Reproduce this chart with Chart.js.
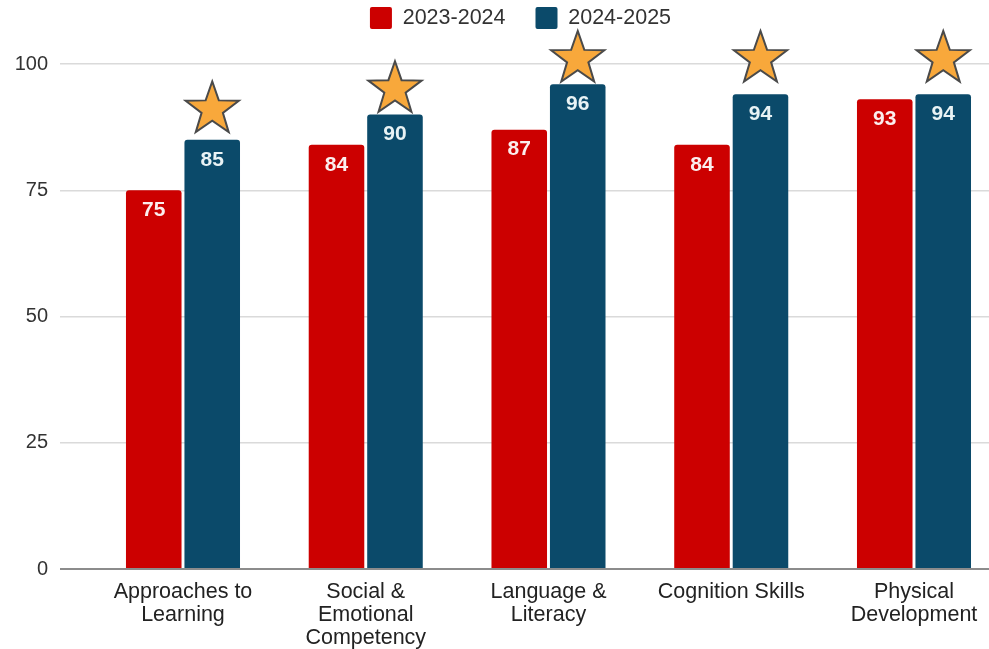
<!DOCTYPE html>
<html><head><meta charset="utf-8">
<script src="https://cdn.jsdelivr.net/npm/chart.js@4/dist/chart.umd.min.js"></script>
<style>
html,body{margin:0;padding:0;background:#fff;overflow:hidden;width:989px;height:649px}
#wrap{position:absolute;left:0;top:0;width:1041px;height:649px}
</style></head>
<body><div id="wrap"><canvas id="c"></canvas></div>
<script>
// ---- data ----
const categories = [['Approaches to','Learning'],['Social &','Emotional','Competency'],['Language &','Literacy'],['Cognition Skills'],['Physical','Development']];
const seriesNames = ['2023-2024','2024-2025'];
const values2324 = [75, 84, 87, 84, 93];
const values2425 = [85, 90, 96, 94, 94];
const starLevels = [91, 95, 101, 101, 101];   // star marks above the 2024-2025 bars (value units)
const yTickValues = [0, 25, 50, 75, 100];

// ---- styles ----
const RED = '#cc0000', BLUE = '#0b4a6a';
const FONT = "'Liberation Sans', Arial, sans-serif";
const LEGEND_H = 87;

const legendFit = {
  id: 'legendFit',
  beforeLayout(chart) {
    const lg = chart.legend;
    if (lg && !lg._fixedFit) {
      const f = lg.fit.bind(lg);
      lg.fit = function () { f(); this.height = LEGEND_H; };
      lg._fixedFit = true;
    }
  }
};

const valueLabels = {
  id: 'valueLabels',
  afterDatasetsDraw(chart) {
    const ctx = chart.ctx;
    ctx.save();
    ctx.font = "bold 21px " + FONT;
    ctx.textAlign = 'center';
    ctx.textBaseline = 'middle';
    chart.data.datasets.forEach((ds, di) => {
      const meta = chart.getDatasetMeta(di);
      meta.data.forEach((el, i) => {
        ctx.fillStyle = di === 0 ? '#fbeeee' : '#e9f3f5';
        ctx.fillText(String(ds.data[i].y), el.x, el.y + 20);
      });
    });
    ctx.restore();
  }
};

function drawStar(ctx, cx, cy, R) {
  const r = R * 0.40;
  ctx.beginPath();
  for (let k = 0; k < 10; k++) {
    const rad = k % 2 === 0 ? R : r;
    const a = -Math.PI / 2 + k * Math.PI / 5;
    const px = cx + rad * Math.cos(a), py = cy + rad * Math.sin(a);
    if (k === 0) ctx.moveTo(px, py); else ctx.lineTo(px, py);
  }
  ctx.closePath();
  ctx.fillStyle = '#f8a83b';
  ctx.fill();
  ctx.lineWidth = 2;
  ctx.lineJoin = 'miter';
  ctx.strokeStyle = '#4a4a4a';
  ctx.stroke();
}

const stars = {
  id: 'stars',
  afterDatasetsDraw(chart) {
    const meta = chart.getDatasetMeta(1);
    const ys = chart.scales.y;
    const ctx = chart.ctx;
    ctx.save();
    starLevels.forEach((lv, i) => {
      const el = meta.data[i];
      if (!el) return;
      drawStar(ctx, el.x, ys.getPixelForValue(lv), 28);
    });
    ctx.restore();
  }
};

const toPoints = arr => arr.map((v, i) => ({ x: i, y: v }));

new Chart(document.getElementById('c'), {
  type: 'bar',
  data: {
    datasets: [
      { label: seriesNames[0], data: toPoints(values2324), backgroundColor: RED, borderWidth: 0,
        borderRadius: { topLeft: 3, topRight: 3, bottomLeft: 0, bottomRight: 0 }, borderSkipped: 'start' },
      { label: seriesNames[1], data: toPoints(values2425), backgroundColor: BLUE, borderWidth: 0,
        borderRadius: { topLeft: 3, topRight: 3, bottomLeft: 0, bottomRight: 0 }, borderSkipped: 'start' }
    ]
  },
  options: {
    responsive: true,
    maintainAspectRatio: false,
    devicePixelRatio: 1,
    animation: false,
    barPercentage: 0.95,
    categoryPercentage: 0.64,
    layout: { padding: { top: -23, left: 0, right: 0, bottom: 0 } },
    plugins: {
      legend: {
        position: 'top',
        align: 'center',
        labels: {
          font: { family: FONT, size: 21.5 },
          color: '#333333',
          boxWidth: 22, boxHeight: 22,
          padding: 30,
          useBorderRadius: true, borderRadius: 2
        }
      },
      tooltip: { enabled: false }
    },
    scales: {
      x: {
        type: 'linear',
        offset: false,
        min: -0.673,
        max: 4.695,
        afterBuildTicks(scale) { scale.ticks = categories.map((c, i) => ({ value: i })); },
        afterFit(scale) { scale.height = 80; },
        grid: { display: false, drawTicks: false, offset: false },
        border: { display: false },
        ticks: {
          autoSkip: false, maxRotation: 0, minRotation: 0,
          padding: 12,
          color: '#222222',
          font: { family: FONT, size: 21.5, lineHeight: 1.06 },
          callback: v => categories[v] || ''
        }
      },
      y: {
        min: 0, max: 100,
        afterBuildTicks(scale) { scale.ticks = yTickValues.map(v => ({ value: v })); },
        afterFit(scale) { scale.width = 60; },
        grid: {
          drawTicks: false,
          color: c => c.tick && c.tick.value === 0 ? '#8c8c8c' : '#dadada',
          lineWidth: c => c.tick && c.tick.value === 0 ? 2 : 1.5
        },
        border: { display: false },
        ticks: {
          padding: 12,
          color: '#333333',
          font: { family: FONT, size: 20 }
        }
      }
    }
  },
  plugins: [legendFit, valueLabels, stars]
});
</script>
</body></html>
